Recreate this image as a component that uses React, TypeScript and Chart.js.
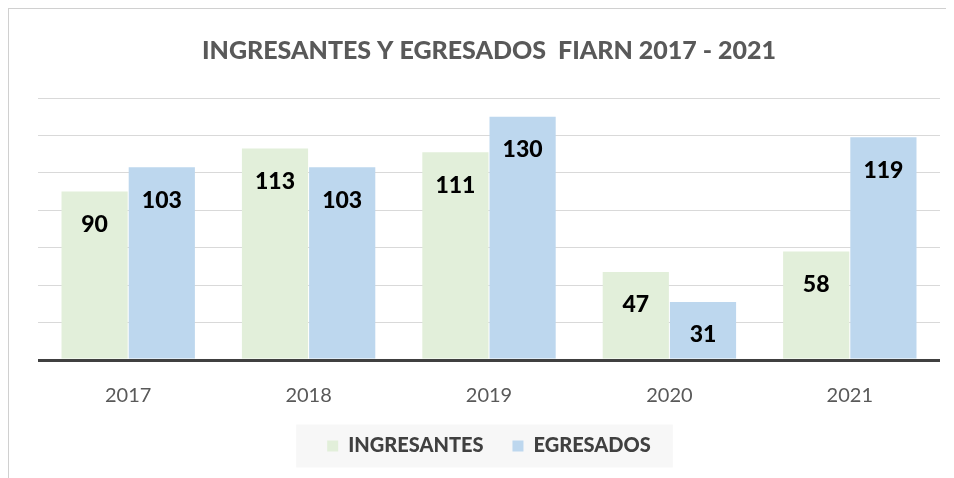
import React, { useEffect, useRef } from "react";
import { Chart, registerables } from "chart.js";

Chart.register(...registerables);

const TITLE = "INGRESANTES Y EGRESADOS  FIARN 2017 - 2021";
const YEARS = ["2017", "2018", "2019", "2020", "2021"];
const INGRESANTES = [90, 113, 111, 47, 58];
const EGRESADOS = [103, 103, 130, 31, 119];
const Y_MAX = 140;
const Y_STEP = 20;

const FONT = "Lato, 'Open Sans', 'Liberation Sans', sans-serif";

const legendBackground = {
  id: "legendBackground",
  beforeDraw(chart: any) {
    const lg = chart.legend;
    if (!lg || !lg.legendHitBoxes || lg.legendHitBoxes.length === 0) return;
    const boxes = lg.legendHitBoxes;
    const first = boxes[0];
    const last = boxes[boxes.length - 1];
    const left = first.left - 31;
    const right = last.left + last.width + 22;
    const cy = first.top + first.height / 2;
    const ctx = chart.ctx;
    ctx.save();
    ctx.fillStyle = "#f7f7f7";
    ctx.fillRect(left, cy - 21.5, right - left, 43);
    ctx.restore();
  },
};

const barLabels = {
  id: "barLabels",
  afterDatasetsDraw(chart: any) {
    const ctx = chart.ctx;
    ctx.save();
    ctx.font = `900 23px ${FONT}`;
    ctx.fillStyle = "#000000";
    ctx.textAlign = "center";
    ctx.textBaseline = "middle";
    chart.data.datasets.forEach((ds: any, i: number) => {
      const meta = chart.getDatasetMeta(i);
      meta.data.forEach((bar: any, j: number) => {
        ctx.fillText(String(ds.data[j]), bar.x, bar.y + 33);
      });
    });
    ctx.restore();
  },
};

export default function App() {
  const ref = useRef<HTMLCanvasElement | null>(null);

  useEffect(() => {
    if (!ref.current) return;
    const chart = new Chart(ref.current, {
      type: "bar",
      data: {
        labels: YEARS,
        datasets: [
          {
            label: "INGRESANTES",
            data: INGRESANTES,
            backgroundColor: "#E2EFDA",
            borderWidth: 0,
            barPercentage: 0.985,
            categoryPercentage: 0.745,
          },
          {
            label: "EGRESADOS",
            data: EGRESADOS,
            backgroundColor: "#BDD7EE",
            borderWidth: 0,
            barPercentage: 0.985,
            categoryPercentage: 0.745,
          },
        ],
      },
      options: {
        responsive: false,
        animation: false,
        layout: { padding: { left: 29, right: 14, top: 0, bottom: 12 } },
        plugins: {
          title: {
            display: true,
            text: TITLE,
            color: "#595959",
            font: { family: FONT, size: 25, weight: "900", lineHeight: 1.2 },
            padding: { top: 27, bottom: 32 },
          },
          legend: {
            display: true,
            position: "bottom",
            labels: {
              color: "#404040",
              font: { family: FONT, size: 20, weight: "900" },
              boxWidth: 11,
              boxHeight: 11,
              padding: 29,
            },
          },
          tooltip: { enabled: false },
        },
        scales: {
          x: {
            grid: { display: false, drawTicks: false },
            border: { display: false },
            ticks: {
              color: "#595959",
              font: { family: FONT, size: 20 },
              padding: 24,
            },
            afterFit: (scale: any) => {
              scale.height = 47;
            },
          },
          y: {
            min: 0,
            max: Y_MAX,
            ticks: { display: false, stepSize: Y_STEP },
            border: { display: false },
            grid: {
              drawTicks: false,
              color: (c: any) => (c.tick && c.tick.value === 0 ? "#404040" : "#d9d9d9"),
              lineWidth: (c: any) => (c.tick && c.tick.value === 0 ? 3 : 1),
            },
            afterFit: (scale: any) => {
              scale.width = 0;
            },
          },
        },
      },
      plugins: [legendBackground, barLabels],
    });
    return () => chart.destroy();
  }, []);

  return (
    <div
      style={{
        width: 945,
        height: 469,
        borderTop: "1px solid #d0d0d0",
        borderLeft: "1px solid #d0d0d0",
        background: "#ffffff",
      }}
    >
      <canvas ref={ref} width={945} height={469} style={{ display: "block" }} />
    </div>
  );
}
